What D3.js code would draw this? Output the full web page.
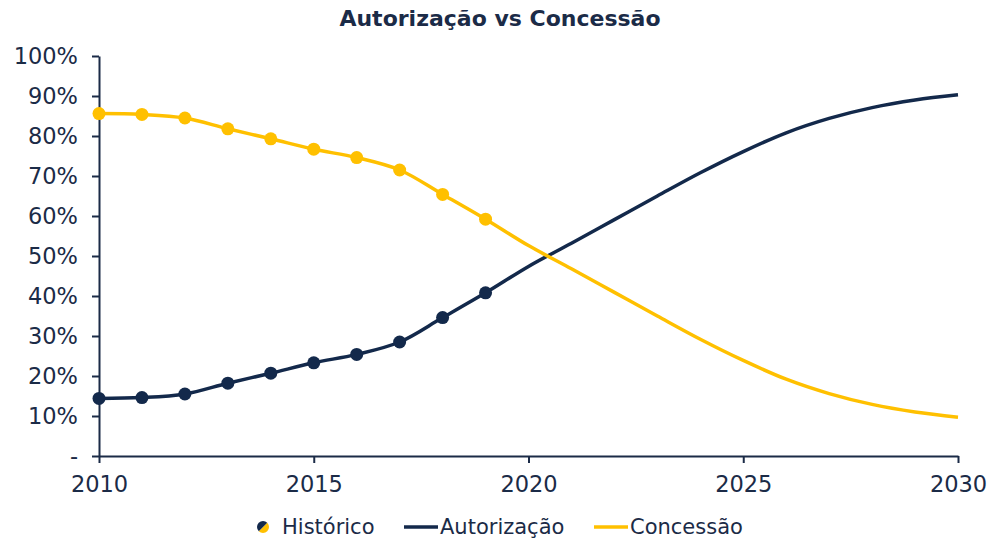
<!DOCTYPE html>
<html lang="pt">
  <head>
    <meta charset="utf-8">
    <title>Autorização vs Concessão</title>
    <script type="text/javascript" src="https://cdn.jsdelivr.net/npm/d3@7"></script>
    <style>
      body { margin: 0; background: #fff; }
      svg { display: block; font-family: "DejaVu Sans", Verdana, sans-serif; }
      .axis path, .axis line { stroke: #1b2b47; stroke-width: 2; }
      .axis text { fill: #1b2b47; font-size: 22.5px; font-family: "DejaVu Sans", Verdana, sans-serif; }
    </style>
  </head>
  <body>
    <script type="text/javascript">
      // years 2010..2030, markers only on the historical ones
      var years = d3.range(2010, 2031);
      var histYears = d3.range(2010, 2020);
      var autorizacao = [14.4, 14.6, 15.5, 18.2, 20.7, 23.3, 25.4, 28.5, 34.6, 40.8,
                         47.4, 53.2, 59.1, 65.0, 70.8, 76.1, 80.8, 84.4, 87.1, 89.0, 90.3];
      var concessao = [85.6, 85.4, 84.5, 81.8, 79.3, 76.7, 74.6, 71.5, 65.4, 59.2,
                       52.6, 46.8, 40.9, 35.0, 29.2, 23.9, 19.2, 15.6, 12.9, 11.0, 9.7];
      var xTicks = [2010, 2015, 2020, 2025, 2030];
      var yTicks = [0, 10, 20, 30, 40, 50, 60, 70, 80, 90, 100];

      var w = 991;
      var h = 543;
      var navy = "#13294b";
      var gold = "#ffc000";
      var textColor = "#1b2b47";

      var svg = d3.select("body")
        .append("svg")
        .attr("width", w)
        .attr("height", h);

      var xScale = d3.scaleLinear()
        .domain([2010, 2030])
        .range([99, 958]);
      var yScale = d3.scaleLinear()
        .domain([0, 100])
        .range([456, 56]);

      svg.append("text")
        .attr("x", 500)
        .attr("y", 26)
        .attr("text-anchor", "middle")
        .attr("font-size", "22px")
        .attr("font-weight", "bold")
        .attr("fill", textColor)
        .text("Autorização vs Concessão");

      var xAxis = d3.axisBottom(xScale)
        .tickValues(xTicks)
        .tickFormat(d3.format("d"))
        .tickSize(7)
        .tickSizeOuter(0)
        .tickPadding(13);
      var yAxis = d3.axisLeft(yScale)
        .tickValues(yTicks)
        .tickFormat(function(d) { return d === 0 ? "-" : d + "%"; })
        .tickSize(7)
        .tickSizeOuter(0)
        .tickPadding(14);

      svg.append("g")
        .attr("class", "axis")
        .attr("transform", "translate(0," + yScale(0) + ")")
        .call(xAxis);

      svg.append("g")
        .attr("class", "axis")
        .attr("transform", "translate(" + xScale(2010) + ",0)")
        .call(yAxis);

      var series = [
        { name: "Autorização", values: autorizacao, color: navy },
        { name: "Concessão", values: concessao, color: gold }
      ];

      var line = d3.line()
        .x(function(d, i) { return xScale(years[i]); })
        .y(function(d) { return yScale(d); })
        .curve(d3.curveCatmullRom.alpha(0.5));

      series.forEach(function(s) {
        svg.append("path")
          .datum(s.values)
          .attr("fill", "none")
          .attr("stroke", s.color)
          .attr("stroke-width", 3.5)
          .attr("d", line);

        svg.selectAll(null)
          .data(histYears)
          .enter()
          .append("circle")
          .attr("cx", function(d) { return xScale(d); })
          .attr("cy", function(d, i) { return yScale(s.values[i]); })
          .attr("r", 6.5)
          .attr("fill", s.color);
      });

      // legend
      var legend = svg.append("g")
        .attr("transform", "translate(0,527)");

      var arc = d3.arc().innerRadius(0).outerRadius(6);
      legend.append("path")
        .attr("d", arc({ startAngle: Math.PI / 4, endAngle: Math.PI * 5 / 4 }))
        .attr("transform", "translate(263,0)")
        .attr("fill", gold);
      legend.append("path")
        .attr("d", arc({ startAngle: -Math.PI * 3 / 4, endAngle: Math.PI / 4 }))
        .attr("transform", "translate(263,0)")
        .attr("fill", navy);

      var legendItems = [
        { label: "Histórico", x: 282 },
        { label: "Autorização", x: 404, color: navy },
        { label: "Concessão", x: 594, color: gold }
      ];

      legendItems.forEach(function(item) {
        var tx = item.x;
        if (item.color) {
          legend.append("line")
            .attr("x1", item.x)
            .attr("x2", item.x + 34)
            .attr("y1", 0)
            .attr("y2", 0)
            .attr("stroke", item.color)
            .attr("stroke-width", 3.5);
          tx = item.x + 36;
        }
        legend.append("text")
          .attr("x", tx)
          .attr("y", 0)
          .attr("dy", "0.35em")
          .attr("font-size", "21px")
          .attr("fill", textColor)
          .text(item.label);
      });
    </script>
  </body>
</html>
